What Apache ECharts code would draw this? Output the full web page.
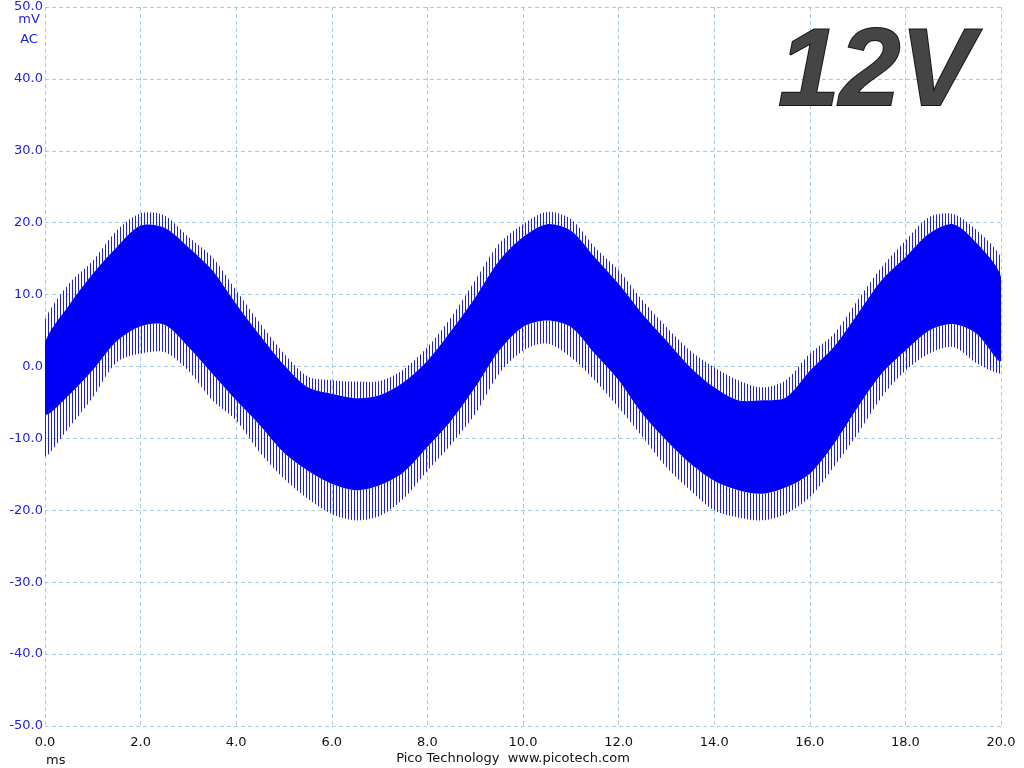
<!DOCTYPE html>
<html>
<head>
<meta charset="utf-8">
<script src="https://cdn.jsdelivr.net/npm/echarts@6/dist/echarts.min.js"></script>
<style>
html,body{margin:0;padding:0;background:#fff;}
#chart{width:1024px;height:768px;}
</style>
</head>
<body>
<div id="chart"></div>
<script>
// time axis (ms)
var times = [0.0,0.5,1.0,1.5,2.0,2.5,3.0,3.5,4.0,4.5,5.0,5.5,6.0,6.5,7.0,7.5,8.0,8.5,9.0,9.5,10.0,
             10.5,11.0,11.5,12.0,12.5,13.0,13.5,14.0,14.5,15.0,15.5,16.0,16.5,17.0,17.5,18.0,18.5,19.0,19.5,20.0];
// envelope of the tips of the upward spikes (mV)
var spikeTop = [6.5,11.5,14.7,18.9,21.3,21.0,18.0,15.2,10.6,6.0,1.8,-1.4,-1.9,-2.1,-2.0,-0.4,2.7,6.9,12.0,17.1,19.8,
                21.5,20.5,16.6,13.4,9.2,5.5,2.2,-0.1,-1.9,-2.9,-1.9,1.8,4.5,9.2,13.8,17.5,20.8,21.2,18.9,15.2];
// upper edge of the solid trace band (mV)
var coreTop = [3.2,8.5,12.9,16.6,19.6,19.3,16.6,13.4,8.7,4.3,0.2,-2.9,-3.8,-4.4,-4.0,-2.2,0.8,5.0,9.6,14.7,18.0,
               19.8,18.9,15.2,11.5,7.3,3.6,-0.1,-2.9,-4.7,-4.7,-4.3,-0.6,2.7,7.3,12.0,15.2,18.5,19.8,17.1,12.4];
// lower edge of the solid trace band (mV)
var coreBottom = [-6.6,-4.0,-0.5,3.5,5.6,5.8,2.7,-1.0,-4.7,-8.2,-12.0,-14.5,-16.3,-17.2,-16.5,-14.7,-11.2,-7.5,-2.9,2.2,5.5,
                  6.4,5.5,1.8,-1.9,-6.6,-10.3,-13.5,-15.9,-17.2,-17.7,-16.8,-14.9,-10.8,-5.7,-1.0,2.2,5.0,5.9,4.5,0.8];
// envelope of the tips of the downward spikes (mV)
var spikeBottom = [-12.5,-8.5,-4.3,0.6,1.8,2.0,-0.6,-4.7,-7.5,-12.0,-15.6,-18.4,-20.5,-21.4,-20.8,-18.4,-14.5,-10.8,-6.6,-1.0,2.2,
                   3.2,1.3,-1.9,-5.7,-9.8,-14.0,-17.2,-20.0,-21.0,-21.4,-20.5,-18.2,-14.0,-9.4,-4.3,-0.6,1.8,2.7,0.4,-1.0];
// axis tick labels
var xTicks = ['0.0','2.0','4.0','6.0','8.0','10.0','12.0','14.0','16.0','18.0','20.0'];
var yTicks = ['-50.0','-40.0','-30.0','-20.0','-10.0','0.0','10.0','20.0','30.0','40.0','50.0'];

// stripe pattern imitating the sparse switching spikes on the edges of the trace
var pc = document.createElement('canvas');
pc.width = 3; pc.height = 4;
var pctx = pc.getContext('2d');
pctx.fillStyle = '#2020d8';
pctx.fillRect(0,0,1,4);

// bands: [upper array, lower array, fill]
var bands = [
  {upper:spikeTop, lower:coreTop, fill:{image:pc, repeat:'repeat'}},
  {upper:coreTop, lower:coreBottom, fill:'#0000f6'},
  {upper:coreBottom, lower:spikeBottom, fill:{image:pc, repeat:'repeat'}}
];

var chart = echarts.init(document.getElementById('chart'), null, {renderer:'canvas'});
var gridColor = '#a9cce0';
var FONT = 'DejaVu Sans';

function renderBand(params, api){
  var b = bands[params.dataIndex];
  var pts = [];
  for (var i = 0; i < times.length; i++) pts.push(api.coord([times[i], b.upper[i]]));
  for (var j = times.length - 1; j >= 0; j--) pts.push(api.coord([times[j], b.lower[j]]));
  return {type:'polygon', shape:{points:pts, smooth:0.3}, style:{fill:b.fill, stroke:null}, silent:true};
}

chart.setOption({
  animation:false,
  backgroundColor:'#ffffff',
  grid:{left:45, right:23, top:7, bottom:42, containLabel:false},
  xAxis:{
    type:'value', min:0, max:20, interval:2,
    axisLine:{show:false}, axisTick:{show:false},
    axisLabel:{color:'#111', fontFamily:FONT, fontSize:13, margin:10,
      formatter:function(v){ return xTicks[Math.round(v/2)]; }},
    splitLine:{show:true, lineStyle:{color:gridColor, type:[4,3], width:1}}
  },
  yAxis:{
    type:'value', min:-50, max:50, interval:10,
    axisLine:{show:false}, axisTick:{show:false},
    axisLabel:{color:'#2222dd', fontFamily:FONT, fontSize:13, margin:2,
      formatter:function(v){ return yTicks[Math.round((v+50)/10)]; }},
    splitLine:{show:true, lineStyle:{color:gridColor, type:[4,3], width:1}}
  },
  series:[{
    type:'custom', renderItem:renderBand, silent:true, animation:false,
    data:bands.map(function(b,i){ return [i]; }), encode:{x:-1, y:-1}, clip:true
  }],
  graphic:[
    {type:'text', x:29, y:20, style:{text:'mV', fill:'#2222dd', font:'13px "DejaVu Sans"', align:'center', verticalAlign:'middle'}},
    {type:'text', x:29, y:40, style:{text:'AC', fill:'#2222dd', font:'13px "DejaVu Sans"', align:'center', verticalAlign:'middle'}},
    {type:'text', x:46, y:761, style:{text:'ms', fill:'#111', font:'13px "DejaVu Sans"', align:'left', verticalAlign:'middle'}},
    {type:'text', x:513, y:759, style:{text:'Pico Technology  www.picotech.com', fill:'#111', font:'13px "DejaVu Sans"', align:'center', verticalAlign:'middle'}},
    {type:'text', x:876, y:130, z:100, style:{
      text:'12V', font:'italic bold 110px "Liberation Sans"', align:'center', verticalAlign:'bottom',
      fill:'#454545', stroke:'#161616', lineWidth:2,
      shadowColor:'rgba(0,0,0,0.35)', shadowBlur:4, shadowOffsetX:2, shadowOffsetY:2}}
  ]
});
</script>
</body>
</html>
